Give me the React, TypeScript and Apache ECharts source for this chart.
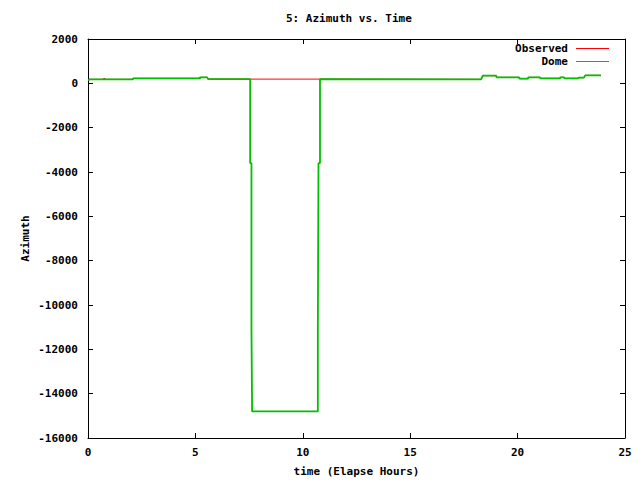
import React, { useEffect, useRef } from "react";
import * as echarts from "echarts";

const chartTitle = "5: Azimuth vs. Time";
const xName = "time (Elapse Hours)";
const yName = "Azimuth";
const seriesNames = ["Observed", "Dome"];

// Observed azimuth (hours, degrees)
const obsTime = [0.02, 0.05, 0.7, 0.72, 0.8, 0.82, 2.09, 2.1, 5.15, 5.18, 5.55, 5.59, 7.55, 10.8, 18.3, 18.38, 19.0, 19.02, 20.07, 20.09, 20.48, 20.5, 21.04, 21.06, 21.97, 21.99, 22.16, 22.18, 22.81, 22.83, 23.09, 23.15, 23.88];
const obsAzimuth = [120, 180, 180, 215, 215, 180, 180, 225, 225, 270, 270, 190, 190, 190, 180, 345, 345, 270, 270, 210, 210, 270, 270, 225, 225, 270, 270, 225, 225, 255, 255, 360, 360];

// Dome azimuth (hours, degrees)
const domeTime = [0.02, 0.05, 2.09, 2.1, 5.21, 5.25, 5.55, 5.59, 7.55, 7.55, 7.61, 7.61, 7.64, 7.64, 10.7, 10.7, 10.73, 10.73, 10.8, 10.8, 18.3, 18.38, 19.0, 19.02, 20.07, 20.09, 20.48, 20.5, 21.04, 21.06, 21.97, 21.99, 22.16, 22.18, 22.81, 22.83, 23.09, 23.15, 23.88];
const domeAzimuth = [120, 180, 180, 225, 225, 270, 270, 190, 190, -3600, -3600, -11100, -11100, -14800, -14800, -11100, -11100, -3600, -3600, 190, 180, 345, 345, 270, 270, 210, 210, 270, 270, 225, 225, 270, 270, 225, 225, 255, 255, 360, 360];

const FONT = "DejaVu Sans Mono";

export default function App() {
  const ref = useRef<HTMLDivElement>(null);
  useEffect(() => {
    if (!ref.current) return;
    const chart = echarts.init(ref.current, null, { renderer: "svg" });
    const obs = obsTime.map((t, i) => [t, obsAzimuth[i]]);
    const dome = domeTime.map((t, i) => [t, domeAzimuth[i]]);
    const txt = { color: "#000", fontFamily: FONT, fontSize: 11, fontWeight: "bold" as const };
    const grid = { left: 88, right: 15, top: 39, bottom: 42, outerBoundsMode: "none" };
    const tick = { show: true, inside: true, length: 5, lineStyle: { color: "#000", width: 1 } };
    const axisLine = { show: true, onZero: false, lineStyle: { color: "#000", width: 1 } };
    const plain = (v: number) => String(v);
    chart.setOption({
      animation: false,
      backgroundColor: "#fff",
      title: {
        text: chartTitle,
        left: 286,
        top: 13,
        padding: 0,
        textStyle: { ...txt },
      },
      legend: {
        orient: "vertical",
        align: "right",
        right: 31,
        top: 42,
        itemGap: 0,
        itemWidth: 33,
        itemHeight: 1,
        icon: "rect",
        padding: 0,
        textStyle: { ...txt, lineHeight: 13, padding: [0, 3, 0, 0] },
        data: seriesNames,
      },
      grid,
      xAxis: [
        {
          type: "value",
          min: 0,
          max: 25,
          interval: 5,
          name: xName,
          nameLocation: "middle",
          nameGap: 28,
          nameMoveOverlap: false,
          nameTextStyle: { ...txt },
          axisLine,
          axisTick: tick,
          axisLabel: { ...txt, margin: 9, formatter: plain },
          splitLine: { show: false },
        },
        {
          type: "value",
          position: "top",
          min: 0,
          max: 25,
          interval: 5,
          axisLine,
          axisTick: tick,
          axisLabel: { show: false },
          splitLine: { show: false },
        },
      ],
      yAxis: [
        {
          type: "value",
          min: -16000,
          max: 2000,
          interval: 2000,
          name: yName,
          nameLocation: "middle",
          nameGap: 57,
          nameMoveOverlap: false,
          nameRotate: 90,
          nameTextStyle: { ...txt },
          axisLine,
          axisTick: tick,
          axisLabel: { ...txt, margin: 10, formatter: plain },
          splitLine: { show: false },
        },
        {
          type: "value",
          position: "right",
          min: -16000,
          max: 2000,
          interval: 2000,
          axisLine,
          axisTick: tick,
          axisLabel: { show: false },
          splitLine: { show: false },
        },
      ],
      series: [
        {
          name: seriesNames[0],
          type: "line",
          data: obs,
          showSymbol: false,
          symbol: "none",
          color: "#ff0000",
          lineStyle: { color: "#ff0000", width: 1 },
          z: 2,
        },
        {
          name: seriesNames[1],
          type: "line",
          data: dome,
          showSymbol: false,
          symbol: "none",
          color: "#00c000",
          lineStyle: { color: "#00c000", width: 1.8 },
          z: 3,
        },
      ],
    });
    return () => chart.dispose();
  }, []);
  return (
    <div
      ref={ref}
      style={{ position: "fixed", left: 0, top: 0, width: 640, height: 480 }}
    />
  );
}
